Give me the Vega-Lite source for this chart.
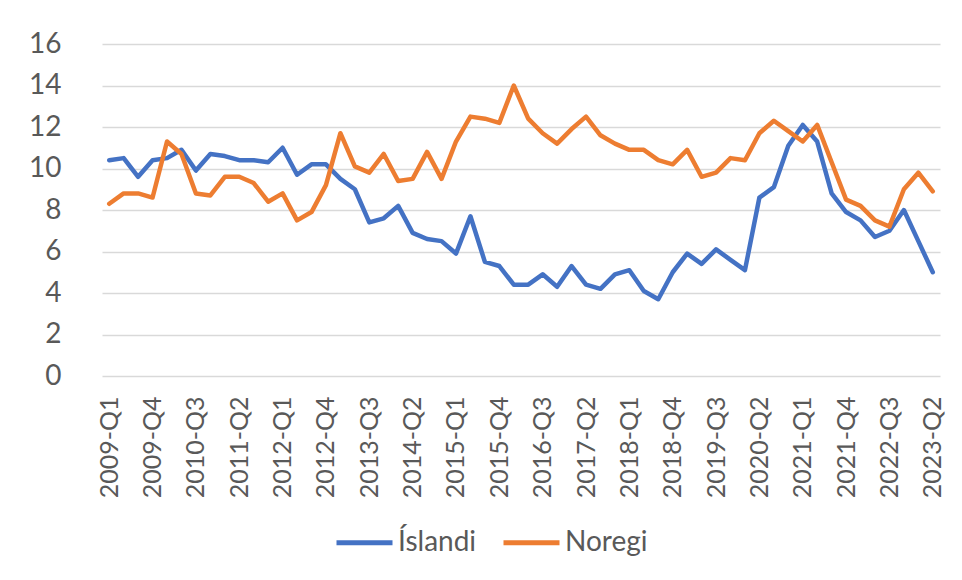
{
  "$schema": "https://vega.github.io/schema/vega-lite/v6.json",
  "autosize": "none",
  "width": 838,
  "height": 332,
  "padding": {"left": 102, "top": 44, "right": 22, "bottom": 204},
  "background": "white",
  "data": {
    "values": [
      {"q": "2009-Q1", "Íslandi": 10.4, "Noregi": 8.3},
      {"q": "2009-Q2", "Íslandi": 10.5, "Noregi": 8.8},
      {"q": "2009-Q3", "Íslandi": 9.6, "Noregi": 8.8},
      {"q": "2009-Q4", "Íslandi": 10.4, "Noregi": 8.6},
      {"q": "2010-Q1", "Íslandi": 10.5, "Noregi": 11.3},
      {"q": "2010-Q2", "Íslandi": 10.9, "Noregi": 10.7},
      {"q": "2010-Q3", "Íslandi": 9.9, "Noregi": 8.8},
      {"q": "2010-Q4", "Íslandi": 10.7, "Noregi": 8.7},
      {"q": "2011-Q1", "Íslandi": 10.6, "Noregi": 9.6},
      {"q": "2011-Q2", "Íslandi": 10.4, "Noregi": 9.6},
      {"q": "2011-Q3", "Íslandi": 10.4, "Noregi": 9.3},
      {"q": "2011-Q4", "Íslandi": 10.3, "Noregi": 8.4},
      {"q": "2012-Q1", "Íslandi": 11.0, "Noregi": 8.8},
      {"q": "2012-Q2", "Íslandi": 9.7, "Noregi": 7.5},
      {"q": "2012-Q3", "Íslandi": 10.2, "Noregi": 7.9},
      {"q": "2012-Q4", "Íslandi": 10.2, "Noregi": 9.2},
      {"q": "2013-Q1", "Íslandi": 9.5, "Noregi": 11.7},
      {"q": "2013-Q2", "Íslandi": 9.0, "Noregi": 10.1},
      {"q": "2013-Q3", "Íslandi": 7.4, "Noregi": 9.8},
      {"q": "2013-Q4", "Íslandi": 7.6, "Noregi": 10.7},
      {"q": "2014-Q1", "Íslandi": 8.2, "Noregi": 9.4},
      {"q": "2014-Q2", "Íslandi": 6.9, "Noregi": 9.5},
      {"q": "2014-Q3", "Íslandi": 6.6, "Noregi": 10.8},
      {"q": "2014-Q4", "Íslandi": 6.5, "Noregi": 9.5},
      {"q": "2015-Q1", "Íslandi": 5.9, "Noregi": 11.3},
      {"q": "2015-Q2", "Íslandi": 7.7, "Noregi": 12.5},
      {"q": "2015-Q3", "Íslandi": 5.5, "Noregi": 12.4},
      {"q": "2015-Q4", "Íslandi": 5.3, "Noregi": 12.2},
      {"q": "2016-Q1", "Íslandi": 4.4, "Noregi": 14.0},
      {"q": "2016-Q2", "Íslandi": 4.4, "Noregi": 12.4},
      {"q": "2016-Q3", "Íslandi": 4.9, "Noregi": 11.7},
      {"q": "2016-Q4", "Íslandi": 4.3, "Noregi": 11.2},
      {"q": "2017-Q1", "Íslandi": 5.3, "Noregi": 11.9},
      {"q": "2017-Q2", "Íslandi": 4.4, "Noregi": 12.5},
      {"q": "2017-Q3", "Íslandi": 4.2, "Noregi": 11.6},
      {"q": "2017-Q4", "Íslandi": 4.9, "Noregi": 11.2},
      {"q": "2018-Q1", "Íslandi": 5.1, "Noregi": 10.9},
      {"q": "2018-Q2", "Íslandi": 4.1, "Noregi": 10.9},
      {"q": "2018-Q3", "Íslandi": 3.7, "Noregi": 10.4},
      {"q": "2018-Q4", "Íslandi": 5.0, "Noregi": 10.2},
      {"q": "2019-Q1", "Íslandi": 5.9, "Noregi": 10.9},
      {"q": "2019-Q2", "Íslandi": 5.4, "Noregi": 9.6},
      {"q": "2019-Q3", "Íslandi": 6.1, "Noregi": 9.8},
      {"q": "2019-Q4", "Íslandi": 5.6, "Noregi": 10.5},
      {"q": "2020-Q1", "Íslandi": 5.1, "Noregi": 10.4},
      {"q": "2020-Q2", "Íslandi": 8.6, "Noregi": 11.7},
      {"q": "2020-Q3", "Íslandi": 9.1, "Noregi": 12.3},
      {"q": "2020-Q4", "Íslandi": 11.1, "Noregi": 11.8},
      {"q": "2021-Q1", "Íslandi": 12.1, "Noregi": 11.3},
      {"q": "2021-Q2", "Íslandi": 11.3, "Noregi": 12.1},
      {"q": "2021-Q3", "Íslandi": 8.8, "Noregi": 10.3},
      {"q": "2021-Q4", "Íslandi": 7.9, "Noregi": 8.5},
      {"q": "2022-Q1", "Íslandi": 7.5, "Noregi": 8.2},
      {"q": "2022-Q2", "Íslandi": 6.7, "Noregi": 7.5},
      {"q": "2022-Q3", "Íslandi": 7.0, "Noregi": 7.2},
      {"q": "2022-Q4", "Íslandi": 8.0, "Noregi": 9.0},
      {"q": "2023-Q1", "Íslandi": 6.5, "Noregi": 9.8},
      {"q": "2023-Q2", "Íslandi": 5.0, "Noregi": 8.9}
    ]
  },
  "transform": [{"fold": ["Íslandi", "Noregi"], "as": ["land", "v"]}],
  "mark": {"type": "line", "strokeWidth": 4.5, "strokeJoin": "round", "strokeCap": "round"},
  "encoding": {
    "x": {
      "field": "q",
      "type": "ordinal",
      "sort": null,
      "scale": {"type": "point", "padding": 0.5},
      "axis": {
        "title": null,
        "values": ["2009-Q1","2009-Q4","2010-Q3","2011-Q2","2012-Q1","2012-Q4","2013-Q3","2014-Q2","2015-Q1","2015-Q4","2016-Q3","2017-Q2","2018-Q1","2018-Q4","2019-Q3","2020-Q2","2021-Q1","2021-Q4","2022-Q3","2023-Q2"],
        "labelAngle": -90,
        "labelFontSize": 25,
        "labelColor": "#595959",
        "labelPadding": 20,
        "ticks": false,
        "domain": false,
        "grid": false,
        "labelOverlap": false
      }
    },
    "y": {
      "field": "v",
      "type": "quantitative",
      "scale": {"domain": [0, 16], "nice": false},
      "axis": {
        "title": null,
        "values": [0, 2, 4, 6, 8, 10, 12, 14, 16],
        "labelFontSize": 28,
        "labelColor": "#595959",
        "labelPadding": 41,
        "ticks": false,
        "domain": false,
        "grid": true,
        "gridColor": "#d9d9d9",
        "gridWidth": 1.3
      }
    },
    "color": {
      "field": "land",
      "type": "nominal",
      "scale": {"domain": ["Íslandi", "Noregi"], "range": ["#4472C4", "#ED7D31"]},
      "legend": {
        "title": null,
        "orient": "none",
        "direction": "horizontal",
        "legendX": 232,
        "legendY": 468,
        "symbolType": "stroke",
        "symbolSize": 3136,
        "symbolStrokeWidth": 5,
        "labelFontSize": 28,
        "labelColor": "#595959",
        "labelOffset": 3,
        "columnPadding": 16,
        "padding": 0
      }
    }
  },
  "config": {
    "font": "Lato",
    "view": {"stroke": null}
  }
}
